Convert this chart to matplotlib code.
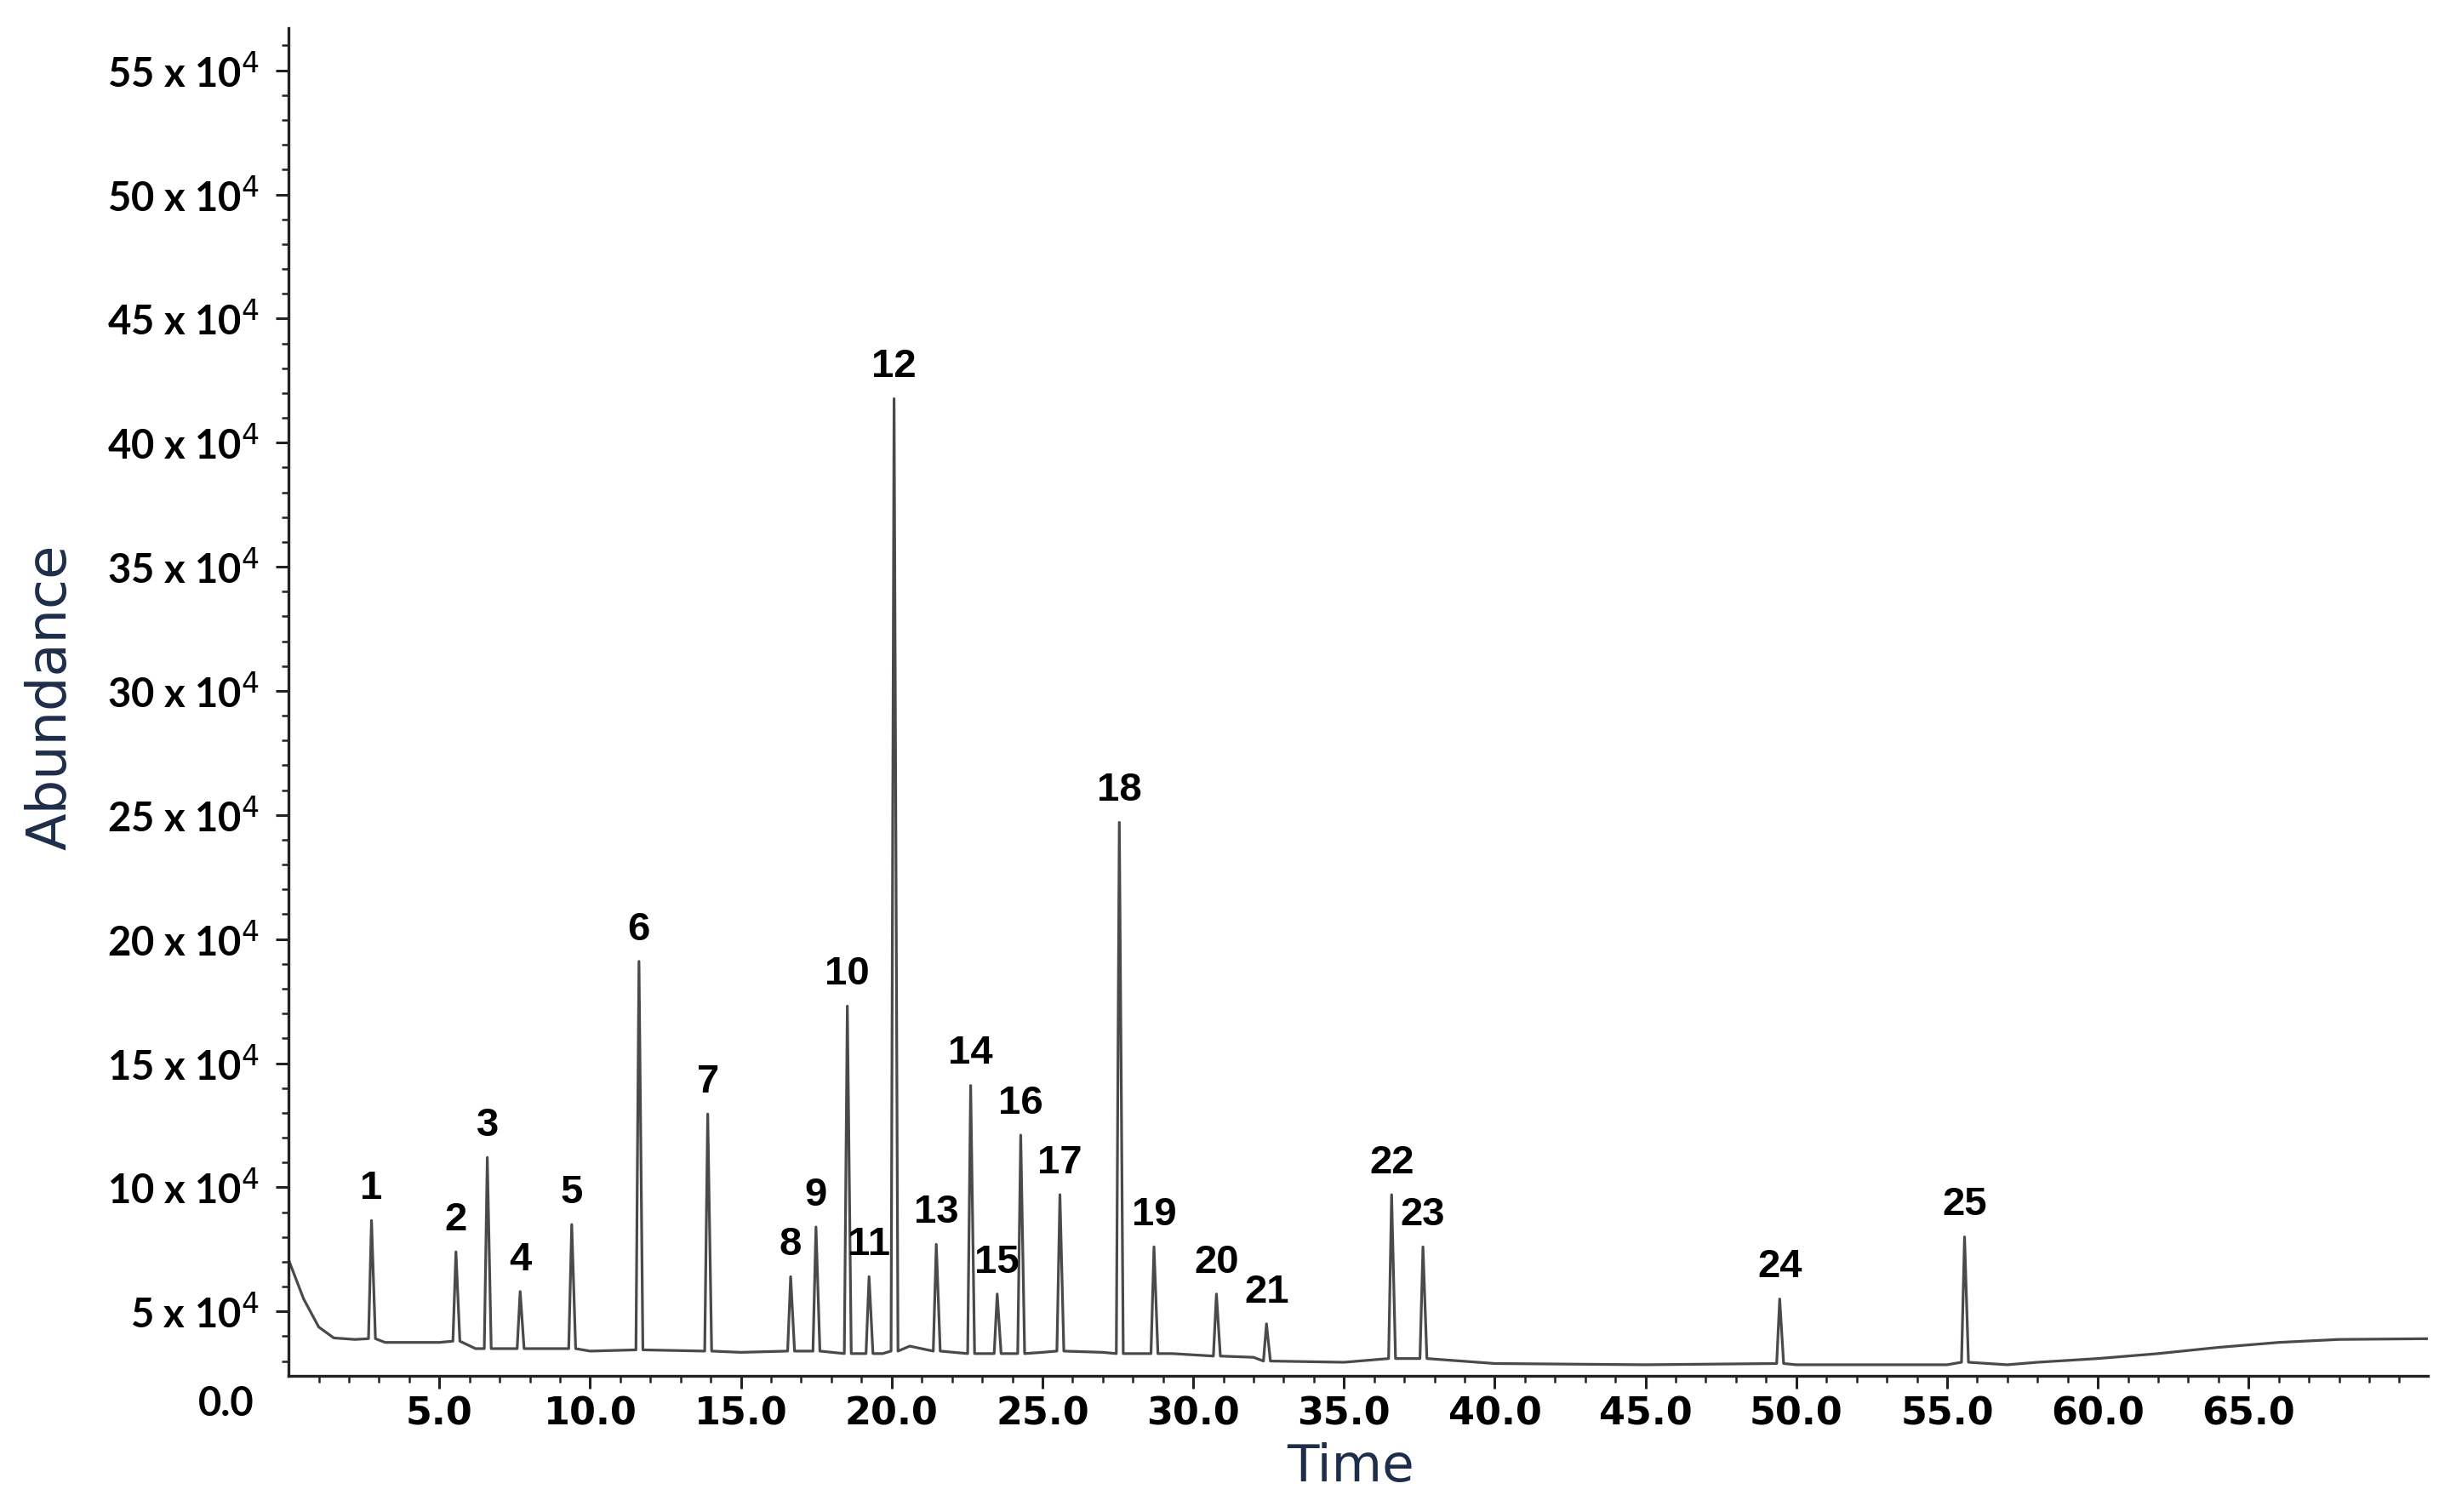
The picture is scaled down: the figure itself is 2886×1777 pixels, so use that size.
import numpy as np
import matplotlib.pyplot as plt

# peak apex: retention time (min) and abundance (x 10^4)
peak_labels = [str(i) for i in range(1, 26)]
peak_time = [2.75, 5.55, 6.59, 7.68, 9.39, 11.62, 13.90, 16.65, 17.49, 18.53,
             19.25, 20.08, 21.48, 22.62, 23.50, 24.28, 25.58, 27.55, 28.70, 30.77,
             32.43, 36.58, 37.62, 49.45, 55.58]
peak_height = [8.66, 7.4, 11.2, 5.8, 8.5, 19.1, 12.95, 6.4, 8.4, 17.3,
               6.4, 41.77, 7.7, 14.1, 5.7, 12.1, 9.7, 24.7, 7.6, 5.7,
               4.5, 9.7, 7.6, 5.5, 8.0]
peak_base = [3.9, 3.8, 3.5, 3.5, 3.5, 3.45, 3.4, 3.4, 3.4, 3.3,
             3.3, 3.4, 3.4, 3.3, 3.3, 3.3, 3.4, 3.3, 3.3, 3.2,
             3.0, 3.1, 3.1, 2.9, 2.95]

# baseline read between peaks
base_time = [0.0, 0.5, 1.0, 1.5, 2.2, 3.2, 5.0, 6.2, 10.0, 15.0, 19.7, 20.6,
             25.0, 27.0, 29.3, 32.0, 35.0, 40.0, 45.0, 50.0, 55.0, 57.0, 58.0,
             60.0, 62.0, 64.0, 66.0, 68.0, 71.0]
base_level = [7.08, 5.5, 4.37, 3.93, 3.87, 3.75, 3.75, 3.5, 3.4, 3.35, 3.3, 3.6,
              3.35, 3.35, 3.3, 3.15, 2.95, 2.9, 2.85, 2.85, 2.85, 2.85, 2.95,
              3.1, 3.3, 3.55, 3.75, 3.87, 3.9]

scale = 1e4
w = 0.1
pts = list(zip(base_time, base_level))
for t, h, b in zip(peak_time, peak_height, peak_base):
    pts += [(t - w, b), (t, h), (t + w * 1.3, b)]
pts.sort()
tr_t = np.array([p[0] for p in pts])
tr_v = np.array([p[1] for p in pts]) * scale

fig = plt.figure(figsize=(28.86, 17.77), dpi=100)
ax = fig.add_axes([0.1175, 0.09, 0.8711, 0.8914])

ax.plot(tr_t, tr_v, color='#4a4a4a', lw=2.3)

for lab, t, h in zip(peak_labels, peak_time, peak_height):
    ax.annotate(lab, (t, h * scale), xytext=(0, 11), textcoords='offset points',
                ha='center', va='bottom', fontsize=34, fontweight='bold',
                family='Liberation Sans')

ax.set_xlim(0, 70.95)
ax.set_ylim(2.4e4, 56.7e4)

xt = np.arange(5, 70, 5)
ax.set_xticks(xt)
ax.set_xticklabels([f"{v:.1f}" for v in xt], fontsize=32, fontweight='bold',
                   family='DejaVu Sans')
ax.set_xticks(np.arange(1, 71, 1), minor=True)

plt.rcParams['mathtext.fontset'] = 'custom'
plt.rcParams['mathtext.rm'] = 'Lato:bold'
plt.rcParams['mathtext.it'] = 'Lato:bold'
yt = np.arange(5, 60, 5)
ax.set_yticks(yt * scale)
ax.set_yticklabels([f"{v} x 10$^{{4}}$" for v in yt], fontsize=34,
                   fontweight='bold', family='Lato')
ax.set_yticks(np.arange(3, 57, 1) * scale, minor=True)

ax.tick_params(axis='both', which='major', direction='out', length=11, width=2.2, colors='#222222')
ax.tick_params(axis='both', which='minor', direction='out', length=6, width=1.8, colors='#222222')
ax.tick_params(axis='x', pad=6)
ax.tick_params(axis='y', pad=14)
for lbl in ax.get_xticklabels() + ax.get_yticklabels():
    lbl.set_color('black')

for s in ['top', 'right']:
    ax.spines[s].set_visible(False)
for s in ['left', 'bottom']:
    ax.spines[s].set_linewidth(2.4)
    ax.spines[s].set_color('#222222')

ax.text(-0.016, -0.021, "0.0", transform=ax.transAxes, ha='right', va='center',
        fontsize=34, fontweight='bold', family='Lato')

fig.text(0.0205, 0.539, "Abundance", rotation=90, ha='center', va='center',
         fontsize=46, color='#1e2d4a', family='DejaVu Sans')
fig.text(0.55, 0.0293, "Time", ha='center', va='center',
         fontsize=44, color='#1e2d4a', family='DejaVu Sans')

fig.savefig('out.png', dpi=100, facecolor='white')
